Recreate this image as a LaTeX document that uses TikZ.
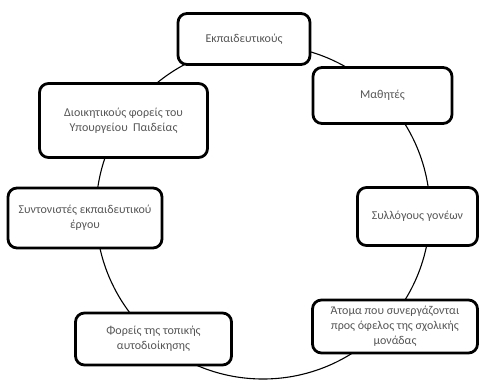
\documentclass[tikz,border=0pt]{standalone}
\usepackage{fontspec}
\setmainfont{Carlito}
\definecolor{txtgray}{HTML}{555555}
\begin{document}
\begin{tikzpicture}[x=1pt,y=-1pt,
  box/.style={draw=black,line width=2.8pt,rounded corners=9pt,fill=white,
    align=center,font=\fontsize{12}{15}\selectfont,text=txtgray,inner sep=1pt}]
\useasboundingbox (0,0) rectangle (481,382);
\draw[line width=1.1pt] (263,212) circle[radius=167];
\node[box,minimum width=132pt,minimum height=51pt] (ekp) at (244,39) {Εκπαιδευτικούς};
\node[box,minimum width=139pt,minimum height=56pt] (math) at (382.5,95.5) {Μαθητές};
\node[box,minimum width=168pt,minimum height=74pt] (dioik) at (123.5,120.5) {Διοικητικούς φορείς του\\Υπουργείου \ Παιδείας};
\node[box,minimum width=154pt,minimum height=60pt] (synt) at (85,218) {Συντονιστές εκπαιδευτικού\\έργου};
\node[box,minimum width=120pt,minimum height=58pt] (syll) at (417.5,216.5) {Συλλόγους γονέων};
\node[box,minimum width=156pt,minimum height=52pt] (tap) at (153.5,339) {Φορείς της τοπικής\\αυτοδιοίκησης};
\node[box,minimum width=165pt,minimum height=53pt] (atom) at (395,326.5) {Άτομα που συνεργάζονται\\προς όφελος της σχολικής\\μονάδας};
\end{tikzpicture}
\end{document}
